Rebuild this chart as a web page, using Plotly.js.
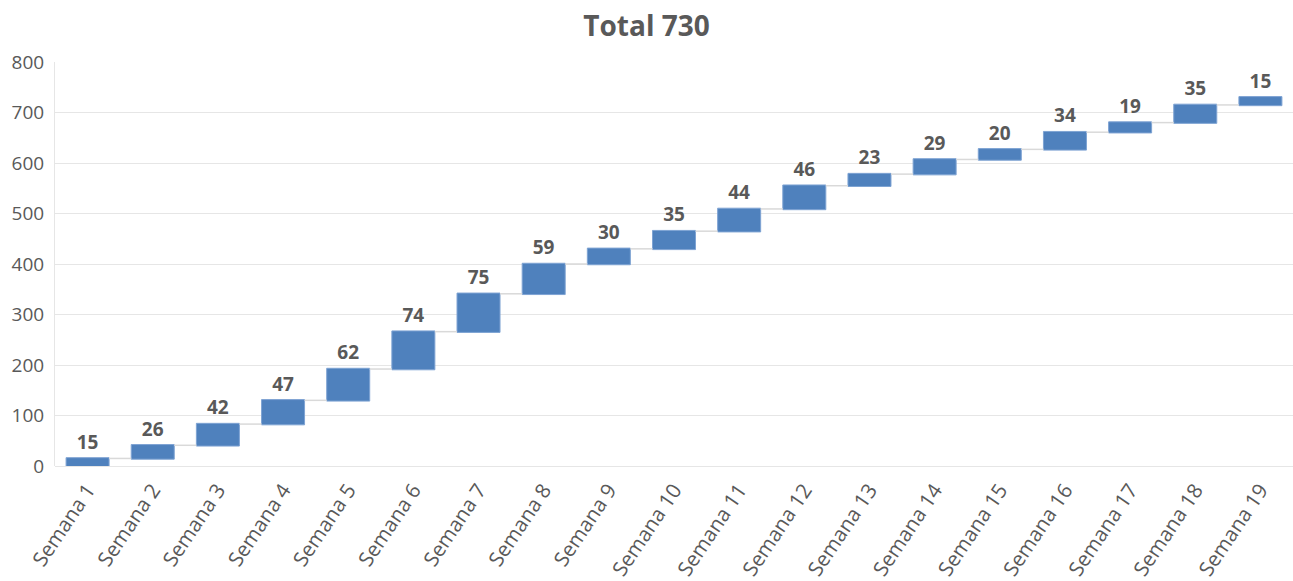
<!DOCTYPE html>
<html><head><meta charset="utf-8">
<script src="https://cdn.plot.ly/plotly-3.0.1.min.js"></script>
<style>body{margin:0;background:#fff}#c{width:1293px;height:581px}</style>
</head><body><div id="c"></div>
<script>
const categories = ["Semana 1","Semana 2","Semana 3","Semana 4","Semana 5","Semana 6","Semana 7","Semana 8","Semana 9","Semana 10","Semana 11","Semana 12","Semana 13","Semana 14","Semana 15","Semana 16","Semana 17","Semana 18","Semana 19"];
const weeklyValues = [15,26,42,47,62,74,75,59,30,35,44,46,23,29,20,34,19,35,15];
const yTicks = [0,100,200,300,400,500,600,700,800];
const total = weeklyValues.reduce((a,b)=>a+b,0);

const FONT = 'Open Sans, Liberation Sans, sans-serif';
const trace = {
  type: 'waterfall',
  x: categories,
  y: weeklyValues,
  measure: weeklyValues.map(()=> 'relative'),
  text: weeklyValues.map(String),
  textposition: 'outside',
  textfont: {family: FONT, size: 19, color: '#595959', weight: 'bold'},
  cliponaxis: false,
  increasing: {marker: {color: '#4F81BD', line: {color: '#7EA3D3', width: 1}}},
  connector: {line: {color: '#D9D9D9', width: 1.5}, mode: 'between'},
  hoverinfo: 'skip'
};

const layout = {
  width: 1293, height: 581,
  margin: {l: 55, r: 0, t: 62, b: 115},
  paper_bgcolor: '#fff', plot_bgcolor: '#fff',
  title: {text: '<b>Total ' + total + '</b>', x: 0.5, xanchor: 'center', y: 0.955, yanchor: 'middle',
    font: {family: FONT, size: 28, color: '#595959'}},
  showlegend: false,
  waterfallgap: 0.34,
  xaxis: {
    type: 'category', tickangle: -56, showgrid: false, showline: false, zeroline: false,
    ticks: '', ticklabelstandoff: 7,
    tickfont: {family: FONT, size: 20.5, color: '#595959'}
  },
  yaxis: {
    range: [0, 800], tickvals: yTicks, ticktext: yTicks.map(String),
    showgrid: true, gridcolor: '#E6E6E6', gridwidth: 1,
    showline: true, linecolor: '#E6E6E6', linewidth: 1,
    zeroline: true, zerolinecolor: '#E6E6E6', zerolinewidth: 1,
    ticks: '', ticklabelstandoff: 6,
    tickfont: {family: FONT, size: 19, color: '#595959'}
  }
};
Plotly.newPlot('c', [trace], layout, {displayModeBar: false, staticPlot: true});
</script></body></html>
